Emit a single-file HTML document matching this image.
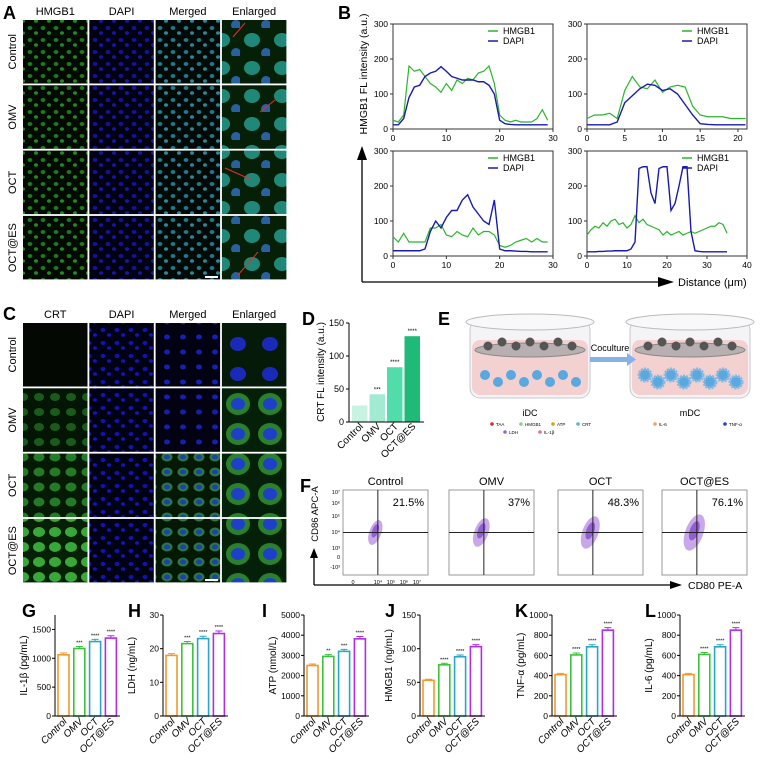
<!DOCTYPE html>
<html><head><meta charset="utf-8"><style>
html,body{margin:0;padding:0;background:#fff}
svg{display:block;font-family:"Liberation Sans",Arial,sans-serif}
</style></head><body>
<svg id="fig" width="762" height="768" viewBox="0 0 762 768" xmlns="http://www.w3.org/2000/svg">
<defs>
<pattern id="pG" width="13" height="12" patternUnits="userSpaceOnUse"><rect width="13" height="12" fill="#020a02"/><ellipse cx="4" cy="4" rx="2.4" ry="2" fill="#1f7a1f"/><ellipse cx="10" cy="9" rx="2" ry="1.8" fill="#238a23"/></pattern>
<pattern id="pB" width="13" height="12" patternUnits="userSpaceOnUse"><rect width="13" height="12" fill="#010112"/><ellipse cx="4" cy="4" rx="2.4" ry="2" fill="#1212a0"/><ellipse cx="10" cy="9" rx="2" ry="1.8" fill="#1515b0"/></pattern>
<pattern id="pM" width="13" height="12" patternUnits="userSpaceOnUse"><rect width="13" height="12" fill="#010a06"/><ellipse cx="4" cy="4" rx="2.4" ry="2" fill="#207888"/><ellipse cx="10" cy="9" rx="2" ry="1.8" fill="#2a8898"/></pattern>
<pattern id="pE" width="30" height="28" patternUnits="userSpaceOnUse"><rect width="30" height="28" fill="#062008"/><ellipse cx="12" cy="12" rx="8" ry="7" fill="#208878"/><ellipse cx="26" cy="25" rx="5" ry="5" fill="#2860a0"/></pattern>
<pattern id="pCg" width="16" height="15" patternUnits="userSpaceOnUse"><rect width="16" height="15" fill="#031503"/><ellipse cx="7" cy="7" rx="5" ry="4" fill="#1a5a1a"/></pattern>
<pattern id="pCg1" width="16" height="15" patternUnits="userSpaceOnUse"><rect width="16" height="15" fill="#041a04"/><ellipse cx="7" cy="7" rx="5.5" ry="4.5" fill="#257a25"/></pattern>
<pattern id="pCg2" width="16" height="15" patternUnits="userSpaceOnUse"><rect width="16" height="15" fill="#062006"/><ellipse cx="7" cy="7" rx="6" ry="5" fill="#38a838"/></pattern>
<pattern id="pCB" width="14" height="13" patternUnits="userSpaceOnUse"><rect width="14" height="13" fill="#010114"/><ellipse cx="5" cy="5" rx="2.5" ry="2" fill="#1212b8"/><ellipse cx="11" cy="10" rx="2" ry="1.8" fill="#1414c0"/></pattern>
<pattern id="pCM" width="16" height="15" patternUnits="userSpaceOnUse"><rect width="16" height="15" fill="#020212"/><ellipse cx="7" cy="7" rx="3" ry="2.5" fill="#1420b0"/></pattern>
<pattern id="pCM2" width="16" height="15" patternUnits="userSpaceOnUse"><rect width="16" height="15" fill="#041804"/><ellipse cx="7" cy="7" rx="5.5" ry="4.5" fill="#2a7a40"/><ellipse cx="7" cy="7" rx="3" ry="2.5" fill="#2040b0"/></pattern>
<pattern id="pCE0" width="32" height="30" patternUnits="userSpaceOnUse"><rect width="32" height="30" fill="#051a08"/><ellipse cx="14" cy="14" rx="8" ry="7" fill="#1a2ab8"/></pattern>
<pattern id="pCE" width="32" height="30" patternUnits="userSpaceOnUse"><rect width="32" height="30" fill="#052008"/><ellipse cx="14" cy="14" rx="12" ry="11" fill="#2a802c"/><ellipse cx="14" cy="14" rx="7" ry="6" fill="#1e40c8"/></pattern>
</defs>
<g id="root"></g>
</svg>
<script>
// ---- Panel B data (distance step 1 µm) ----
const bTL_hmgb1=[25,20,40,180,165,170,150,130,120,105,130,110,140,130,145,140,160,165,180,130,40,25,20,25,20,20,20,30,55,25];
const bTL_dapi=[12,12,30,90,120,125,150,160,165,178,165,150,145,140,140,140,135,135,125,100,25,15,13,12,12,12,12,12,12,12];
const bTR_hmgb1=[30,40,40,45,30,110,150,120,115,140,105,120,125,120,65,40,35,35,35,30,30,30];
const bTR_dapi=[12,12,12,12,20,75,95,115,128,125,110,115,100,70,40,15,13,12,12,12,12,12];
const bBL_hmgb1=[55,40,65,40,40,40,40,80,80,90,60,55,70,60,55,80,60,70,70,60,30,25,30,40,45,50,40,50,40,40];
const bBL_dapi=[15,15,15,15,15,15,20,70,100,80,110,130,130,160,175,140,120,100,90,160,20,15,15,14,13,13,12,12,12,12];
const bBR_hmgb1=[60,75,85,80,95,85,100,105,90,95,80,90,115,95,105,90,85,80,75,60,70,60,65,70,60,65,70,65,70,75,80,85,85,95,90,65];
const bBR_dapi=[12,12,12,13,13,14,14,15,15,15,15,20,40,250,255,255,180,150,250,255,255,130,150,200,255,255,70,15,13,12,12,12,12,12,12,12];
// ---- Panel D ----
const dCats=["Control","OMV","OCT","OCT@ES"];
const dVals=[25,42,83,130];
const dStars=["","***","****","****"];
// ---- Panel F ----
const fTitles=["Control","OMV","OCT","OCT@ES"];
const fPct=["21.5%","37%","48.3%","76.1%"];
// ---- Bottom bars ----
const gCats=["Control","OMV","OCT","OCT@ES"];
const gVals=[1060,1170,1290,1350];
const hVals=[18,21.5,23,24.5];
const iVals=[2500,2950,3200,3820];
const jVals=[53,76,88,103];
const kVals=[410,605,685,850];
const lVals=[410,610,685,850];
const gStars=["","***","****","****"];
const hStars=["","***","****","****"];
const iStars=["","**","***","****"];
const jStars=["","****","****","****"];
const kStars=["","****","****","****"];
const lStars=["","****","****","****"];

const NS="http://www.w3.org/2000/svg";
const root=document.getElementById('root');
function mk(tag,attrs,parent,txt){const e=document.createElementNS(NS,tag);for(const k in attrs)e.setAttribute(k,attrs[k]);if(txt!==undefined)e.textContent=txt;(parent||root).appendChild(e);return e;}

// panel letters
[["A",3,19],["B",338,19],["C",3,320],["D",302,325],["E",438,325],["F",300,492],["G",22,617],["H",128,617],["I",262,617],["J",385,617],["K",515,617],["L",645,617]].forEach(p=>{
 const t=mk('text',{x:p[1],y:p[2],'font-size':18,'font-weight':'bold'},root,p[0]);
 
 
});

// ---- microscopy grids ----
function grid(x0,y0,cols,rows,fills,name){
 const g=mk('g',{});
 
 
 const cw=64.5,ch=63.5,gap=1.8;
 cols.forEach((c,i)=>{const t=mk('text',{x:x0+i*(cw+gap)+cw/2,y:y0-5,'font-size':11,'text-anchor':'middle'},g,c);
  });
 rows.forEach((r,j)=>{
  const cy=y0+j*(ch+gap)+ch/2;
  const t=mk('text',{x:0,y:0,'font-size':11,'text-anchor':'middle',transform:`translate(16,${cy}) rotate(-90)`},g,r);
  
  for(let i=0;i<4;i++){
   const im=mk('rect',{x:x0+i*(cw+gap),y:y0+j*(ch+gap),width:cw,height:ch,fill:fills[j][i]},g);
   
  }
 });
 return g;
}
grid(23,20,["HMGB1","DAPI","Merged","Enlarged"],["Control","OMV","OCT","OCT@ES"],
 [0,1,2,3].map(()=>["url(#pG)","url(#pB)","url(#pM)","url(#pE)"]),'panel-a-images');
grid(23,323,["CRT","DAPI","Merged","Enlarged"],["Control","OMV","OCT","OCT@ES"],
 [["#030803","url(#pCB)","url(#pCM)","url(#pCE0)"],["url(#pCg)","url(#pCB)","url(#pCM)","url(#pCE)"],["url(#pCg1)","url(#pCB)","url(#pCM2)","url(#pCE)"],["url(#pCg2)","url(#pCB)","url(#pCM2)","url(#pCE)"]],'panel-c-images');
// red lines in enlarged A
[[233,37,245,23],[260,112,275,100],[225,168,252,180],[238,275,258,252]].forEach(l=>{const e=mk('line',{x1:l[0],y1:l[1],x2:l[2],y2:l[3],stroke:'#e03030','stroke-width':1});});
[[205,277,218,277],[205,580,218,580]].forEach(l=>{const e=mk('line',{x1:l[0],y1:l[1],x2:l[2],y2:l[3],stroke:'#fff','stroke-width':2});});

// ---- Panel B line plots ----
function linePlot(x0,y0,w,h,xmax,xticks,hm,da,name){
 const g=mk('g',{});
 const sx=v=>x0+v/xmax*w, sy=v=>y0+h-v/300*h;
 const fr=mk('rect',{x:x0,y:y0,width:w,height:h,fill:'none',stroke:'#333','stroke-width':1},g);
 
 [0,100,200,300].forEach(v=>{mk('line',{x1:x0-3,x2:x0,y1:sy(v),y2:sy(v),stroke:'#333'},g);
  const t=mk('text',{x:x0-5,y:sy(v)+3,'font-size':8.5,'text-anchor':'end'},g,v);});
 xticks.forEach(v=>{mk('line',{x1:sx(v),x2:sx(v),y1:y0+h,y2:y0+h+3,stroke:'#333'},g);
  const t=mk('text',{x:sx(v),y:y0+h+12,'font-size':8.5,'text-anchor':'middle'},g,v);});
 const p1=mk('polyline',{points:hm.map((v,i)=>sx(i)+','+sy(v)).join(' '),fill:'none',stroke:'#2bb52b','stroke-width':1.2},g);
 
 const p2=mk('polyline',{points:da.map((v,i)=>sx(i)+','+sy(v)).join(' '),fill:'none',stroke:'#1a1ab0','stroke-width':1.4},g);
 
 [["HMGB1","#2bb52b",10],["DAPI","#1a1ab0",20]].forEach(L=>{
  const lg=mk('g',{},g);
  mk('line',{x1:x0+w-65,x2:x0+w-55,y1:y0+L[2]-3,y2:y0+L[2]-3,stroke:L[1],'stroke-width':1.5},lg);
  mk('text',{x:x0+w-50,y:y0+L[2],'font-size':9},lg,L[0]);
 });
}
linePlot(393,24,160,105,30,[0,10,20,30],bTL_hmgb1,bTL_dapi,'plot-b-top-left');
linePlot(587,24,160,105,21.2,[0,5,10,15,20],bTR_hmgb1,bTR_dapi,'plot-b-top-right');
linePlot(393,151,160,105,30,[0,10,20,30],bBL_hmgb1,bBL_dapi,'plot-b-bottom-left');
linePlot(587,151,160,105,40,[0,10,20,30,40],bBR_hmgb1,bBR_dapi,'plot-b-bottom-right');
(function(){
 const g=mk('g',{});
 mk('path',{d:'M362,282 V158 M362,282 H662',stroke:'#000','stroke-width':1.3,fill:'none'},g);
 mk('path',{d:'M357,160 L362,146 L367,160Z M658,277 L674,282 L658,287Z',fill:'#000'},g);
 const t=mk('text',{x:678,y:286,'font-size':11},g,'Distance (μm)');
 const y=mk('text',{x:0,y:0,'font-size':10.5,'text-anchor':'middle',transform:'translate(367,74) rotate(-90)'},g,'HMGB1 FL intensity (a.u.)');
})();

// ---- Panel D ----
(function(){
 const g=mk('g',{});
 const x0=349,y0=323,h=99,max=150,bw=15.5;
 const sy=v=>y0+h-v/max*h;
 const cols=["#c8f2e2","#a2ebd2","#52dcaa","#1fba78"];
 dVals.forEach((v,i)=>{
  const bx=x0+3+i*17.5;
  const b=mk('rect',{x:bx,y:sy(v),width:bw,height:sy(0)-sy(v),fill:cols[i]},g);
  
  mk('text',{x:bx+bw/2,y:sy(v)-3,'font-size':6,'text-anchor':'middle'},g,dStars[i]);
  const t=mk('text',{x:0,y:0,'font-size':10,'text-anchor':'end',transform:`translate(${bx+bw/2+4},${y0+h+5}) rotate(-45)`},g,dCats[i]);
  
 });
 mk('path',{d:`M${x0},${y0} V${y0+h} H${x0+75}`,stroke:'#000','stroke-width':1,fill:'none'},g);
 [0,50,100,150].forEach(v=>{mk('line',{x1:x0-3,x2:x0,y1:sy(v),y2:sy(v),stroke:'#000'},g);
  const t=mk('text',{x:x0-5,y:sy(v)+3,'font-size':9,'text-anchor':'end'},g,v);});
 const y=mk('text',{x:0,y:0,'font-size':10,'text-anchor':'middle',transform:'translate(324,372) rotate(-90)'},g,'CRT FL intensity (a.u.)');
})();

// ---- Panel E schematic ----
(function(){
 const g=mk('g',{});
 function beaker(cx,name,mature){
  const b=mk('g',{},g);
  mk('rect',{x:cx-60,y:320,width:120,height:78,rx:10,fill:'#f4f4f6',stroke:'#c8c8d0'},b);
  mk('ellipse',{cx:cx,cy:322,rx:64,ry:8,fill:'#f8f8fa',stroke:'#bbb'},b);
  mk('rect',{x:cx-58,y:340,width:116,height:55,rx:8,fill:'#f2c8c8',opacity:0.8},b);
  mk('ellipse',{cx:cx,cy:350,rx:55,ry:7,fill:'#b8b0b0',stroke:'#888'},b);
  for(let i=0;i<7;i++){mk('circle',{cx:cx-42+i*14,cy:346-(i%2)*4,r:4.5,fill:'#555'},b);}
  for(let i=0;i<8;i++){mk('circle',{cx:cx-45+i*13,cy:375+(i%2)*7,r:mature?6:5,fill:'#5aa8e0',stroke:mature?'#8ab8e0':'none','stroke-dasharray':mature?'2 1':'none','stroke-width':mature?3:0},b);}
 }
 beaker(530,'beaker-idc',false);beaker(690,'beaker-mdc',true);
 mk('rect',{x:590,y:357,width:38,height:5,fill:'#8ab0e8'},g);
 mk('path',{d:'M627,353 L636,359.5 L627,366Z',fill:'#8ab0e8'},g);
 const c=mk('text',{x:610,y:351,'font-size':9,'text-anchor':'middle'},g,'Coculture');
 mk('text',{x:530,y:416,'font-size':9,'text-anchor':'middle'},g,'iDC');
 mk('text',{x:690,y:416,'font-size':9,'text-anchor':'middle'},g,'mDC');
 [["TAA",492,426,"#d03030"],["HMGB1",521,426,"#8ad08a"],["ATP",553,426,"#d0a020"],["CRT",578,426,"#60b0d0"],["LDH",505,434,"#a060d0"],["IL-1β",540,434,"#e07090"],["IL-6",655,426,"#f0a060"],["TNF-α",725,426,"#3040b0"]].forEach(L=>{
  const lg=mk('g',{},g);
  mk('circle',{cx:L[1],cy:L[2]-2,r:1.8,fill:L[3]},lg);
  mk('text',{x:L[1]+4,y:L[2],'font-size':4.5},lg,L[0]);
 });
})();

// ---- Panel F flow ----
(function(){
 const g=mk('g',{});
 const xs=[343,449,558,662];
 fTitles.forEach((t,i)=>{
  const x=xs[i],y=490,w=85,h=85;
  const p=mk('g',{},g);
  mk('rect',{x:x,y:y,width:w,height:h,fill:'#fff',stroke:'#999'},p);
  mk('text',{x:x+w/2,y:y-5,'font-size':11,'text-anchor':'middle'},p,t);
  mk('ellipse',{cx:x+w*0.38,cy:y+h*0.5,rx:6+i,ry:13+i*2,fill:'#c8a8e8',transform:`rotate(20 ${x+w*0.38} ${y+h*0.5})`},p);
  mk('ellipse',{cx:x+w*0.38,cy:y+h*0.48,rx:3+i*0.5,ry:7+i,fill:'#9060d0',transform:`rotate(20 ${x+w*0.38} ${y+h*0.48})`},p);
  mk('line',{x1:x+w*0.41,x2:x+w*0.41,y1:y,y2:y+h,stroke:'#222'},p);
  mk('line',{x1:x,x2:x+w,y1:y+h*0.5,y2:y+h*0.5,stroke:'#222'},p);
  const pt=mk('text',{x:x+w-4,y:y+16,'font-size':11,'text-anchor':'end'},p,fPct[i]);
  
 });
 [["10⁷",494],["10⁶",505],["10⁵",518],["10⁴",534],["10³",550],["0",559],["-10³",569]].forEach(l=>mk('text',{x:340,y:l[1],'font-size':5.5,'text-anchor':'end'},g,l[0]));
 [["0",353],["10⁴",378],["10⁵",391],["10⁶",404],["10⁷",417]].forEach(l=>mk('text',{x:l[1],y:584,'font-size':5.5,'text-anchor':'middle'},g,l[0]));
 mk('path',{d:'M314,585 V556 M314,585 H672',stroke:'#000','stroke-width':1.3,fill:'none'},g);
 mk('path',{d:'M310,558 L314,548 L318,558Z M670,581 L682,585 L670,589Z',fill:'#000'},g);
 const xt=mk('text',{x:688,y:589,'font-size':10.5},g,'CD80 PE-A');
 const yt=mk('text',{x:0,y:0,'font-size':9.5,'text-anchor':'middle',transform:'translate(318,514) rotate(-90)'},g,'CD86 APC-A');
})();

// ---- Bottom bar charts ----
const barCols=["#f39a2c","#3cc23c","#2aa6c6","#b02ee0"];
function barChart(x0,max,ticks,vals,stars,title,name){
 const g=mk('g',{});
 const y0=615,h=101,sy=v=>y0+h-v/max*h;
 vals.forEach((v,i)=>{
  const bx=x0+3+i*15.8,bw=11;
  const b=mk('rect',{x:bx,y:sy(v),width:bw,height:sy(0)-sy(v),fill:'#fff',stroke:barCols[i],'stroke-width':1.6},g);
  
  const e=v*0.03;
  mk('path',{d:`M${bx+bw/2},${sy(v+e)} V${sy(v)} M${bx+2},${sy(v+e)} H${bx+bw-2}`,stroke:barCols[i],'stroke-width':1},g);
  mk('text',{x:bx+bw/2,y:sy(v+e)-2,'font-size':5.5,'text-anchor':'middle'},g,stars[i]);
  const t=mk('text',{x:0,y:0,'font-size':10,'font-style':'italic','text-anchor':'end',transform:`translate(${bx+bw/2+4},${y0+h+6}) rotate(-45)`},g,gCats[i]);
  
 });
 mk('path',{d:`M${x0},${y0} V${y0+h} H${x0+65}`,stroke:'#000','stroke-width':1,fill:'none'},g);
 ticks.forEach(v=>{mk('line',{x1:x0-3,x2:x0,y1:sy(v),y2:sy(v),stroke:'#000'},g);
  const t=mk('text',{x:x0-4,y:sy(v)+3,'font-size':8.5,'text-anchor':'end'},g,v);});
 const yt=mk('text',{x:0,y:0,'font-size':10,'text-anchor':'middle',transform:`translate(${x0-28},${y0+h/2}) rotate(-90)`},g,title);
 
}
barChart(55,1750,[0,500,1000,1500],gVals,gStars,'IL-1β (pg/mL)','chart-g-il1b');
barChart(163,30,[0,10,20,30],hVals,hStars,'LDH (ng/mL)','chart-h-ldh');
barChart(304,5000,[0,1000,2000,3000,4000,5000],iVals,iStars,'ATP (nmol/L)','chart-i-atp');
barChart(420,150,[0,50,100,150],jVals,jStars,'HMGB1 (ng/mL)','chart-j-hmgb1');
barChart(552,1000,[0,200,400,600,800,1000],kVals,kStars,'TNF-α (pg/mL)','chart-k-tnfa');
barChart(680,1000,[0,200,400,600,800,1000],lVals,lStars,'IL-6 (pg/mL)','chart-l-il6');
</script>
</body></html>
